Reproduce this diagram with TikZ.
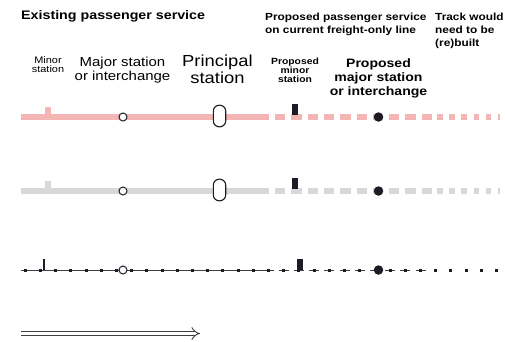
\documentclass[tikz,border=0pt]{standalone}
\usepackage{fontspec}
\setmainfont{Liberation Sans}[FakeStretch=1.15]
\usetikzlibrary{arrows.meta}
\definecolor{existpink}{HTML}{F4B5B5}
\definecolor{existgrey}{HTML}{D8D8D8}
\definecolor{stationink}{HTML}{1C1C24}
\tikzset{
  caption/.style={inner sep=0pt, anchor=north, align=center},
  heading/.style={inner sep=0pt, anchor=north west, align=left},
  track/.style={line width=5.5pt},
  rail/.style={draw=stationink!85, line width=0.8pt},
  sleeper/.style={rectangle, fill=stationink, inner sep=0pt, minimum size=3pt},
  openstop/.style={circle, draw=stationink, line width=1pt, fill=white, inner sep=0pt, minimum size=8pt},
  newstop/.style={circle, fill=stationink, inner sep=0pt, minimum size=9.5pt},
  principal/.style={rectangle, rounded corners=6pt, draw=stationink, line width=1.1pt, fill=white,
    inner sep=0pt, minimum width=12.4pt, minimum height=21.7pt},
  tickbox/.style={rectangle, inner sep=0pt},
  direction/.style={draw=stationink!85, line width=0.9pt, double, double distance=3.6pt, -{Implies}}
}
\begin{document}
\begin{tikzpicture}[x=1pt, y=-1pt]
  \useasboundingbox (0,0) rectangle (505,341);
  % headings
  \node[heading, font=\fontsize{12.4}{14}\selectfont\bfseries] (existing) at (21,10) {Existing passenger service};
  \node[heading, font=\fontsize{10.3}{12.5}\selectfont\bfseries] (proposed) at (265,13.3) {Proposed passenger service\\on current freight-only line};
  \node[heading, font=\fontsize{10.3}{13}\selectfont\bfseries] (rebuilt) at (435,13.3) {Track would\\need to be\\(re)built};
  % station captions
  \node[caption, font=\fontsize{9.5}{9.4}\selectfont] (minorcap) at (48,56) {Minor\\station};
  \node[caption, font=\fontsize{13}{14}\selectfont] (majorcap) at (122.5,57) {Major station\\or interchange};
  \node[caption, font=\fontsize{16}{16.7}\selectfont] (principalcap) at (217.5,55) {Principal\\station};
  \node[caption, font=\fontsize{9}{9}\selectfont\bfseries] (newminorcap) at (295,57.5) {Proposed\\minor\\station};
  \node[caption, font=\fontsize{12.2}{14}\selectfont\bfseries] (newmajorcap) at (378.5,58) {Proposed\\major station\\or interchange};
  % coloured lines
  \foreach \y/\col in {117/existpink, 191/existgrey} {
    \coordinate (a\y) at (21,\y);
    \coordinate (b\y) at (269,\y);
    \coordinate (c\y) at (437,\y);
    \coordinate (d\y) at (500,\y);
    \draw[track, \col] (a\y) -- (b\y);
    \draw[track, \col, dash pattern=on 10.3pt off 6pt, dash phase=10.3pt] (b\y) -- (c\y);
    \draw[track, \col, dash pattern=on 5.5pt off 6.7pt] (c\y) -- (d\y);
    \node[tickbox, fill=\col, minimum width=5.7pt, minimum height=10pt] (minor\y) at (48,\y-5) {};
    \node[openstop] (major\y) at (123,\y) {};
    \node[principal] (principal\y) at (219.5,\y-1) {};
    \node[tickbox, fill=stationink, minimum width=5.5pt, minimum height=11pt] (newminor\y) at (295,\y-7.5) {};
    \node[newstop] (newmajor\y) at (378.5,\y) {};
  }
  % black line
  \coordinate (railA) at (21,270);
  \coordinate (railB) at (273.5,270);
  \coordinate (railC) at (426,270);
  \draw[rail] (railA) -- (railB);
  \draw[rail, dash pattern=on 10pt off 5.2pt, dash phase=10pt] (railB) -- (railC);
  \foreach \k in {0,...,22,24,25,...,31}
    \node[sleeper] (sleeper\k) at (25.3+15.2*\k,270) {};
  \node[tickbox, fill=stationink, minimum width=2.7pt, minimum height=11pt] (minorB) at (44,264.5) {};
  \node[openstop] (majorB) at (123,270) {};
  \node[tickbox, fill=stationink, minimum width=5.5pt, minimum height=11pt] (newminorB) at (300,264.5) {};
  \node[newstop] (newmajorB) at (378.5,270) {};
  % arrow
  \coordinate (arrowA) at (21,333.5);
  \coordinate (arrowB) at (200,333.5);
  \draw[direction] (arrowA) -- (arrowB);
\end{tikzpicture}
\end{document}
